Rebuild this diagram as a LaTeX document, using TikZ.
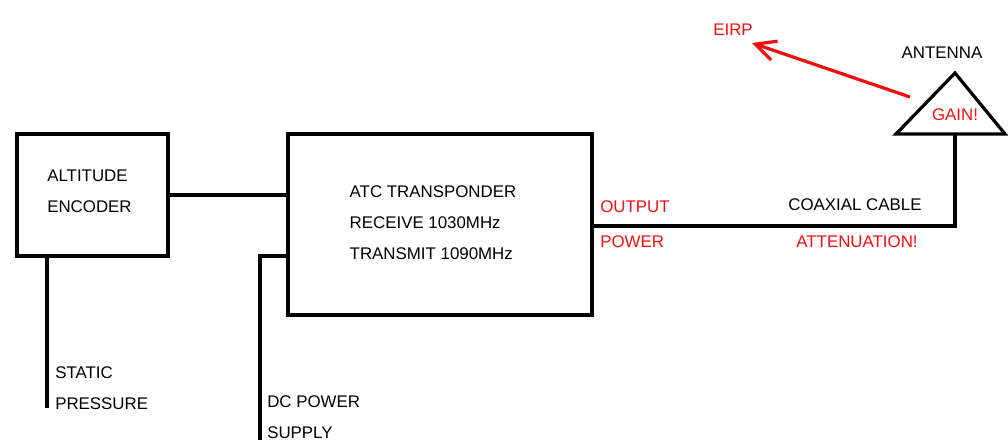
\documentclass[tikz,border=0pt]{standalone}
\usepackage{fontspec}
\setmainfont{Liberation Sans}
\usetikzlibrary{arrows.meta,positioning}
\definecolor{tx-red}{HTML}{F01010}
\newcommand{\lblfont}{\fontsize{12}{22}\selectfont}

\begin{document}
\begin{tikzpicture}[x=0.025cm, y=-0.025cm,
    unit/.style={draw, line width=2.3pt, inner sep=0pt},
    wire/.style={line width=2.3pt},
    tag/.style={font=\lblfont, align=left, inner sep=0pt},
    warn/.style={tag, text=tx-red}]
    \useasboundingbox (0,0) rectangle (1008,440);
    % blocks
    \node[unit, minimum width=3.775cm, minimum height=3.05cm] (enc) at (92.5,195) {};
    \node[unit, minimum width=7.6cm, minimum height=4.525cm] (xpdr) at (440,224.5) {};
    \node[tag] (enctxt) at ([shift={(-3,-4)}]enc.center) {ALTITUDE\\ENCODER};
    \node[tag] (xpdrtxt) at ([shift={(-7,-2)}]xpdr.center) {ATC TRANSPONDER\\RECEIVE 1030MHz\\TRANSMIT 1090MHz};
    % antenna
    \coordinate (antL) at (896,134);
    \coordinate (antR) at (1005,134);
    \coordinate (antT) at (955,73);
    \coordinate (feed) at (955,134);
    \draw[wire, line join=miter] (antL) -- (antT) -- (antR) -- cycle;
    % wires
    \coordinate (sp) at (47,408);
    \coordinate (dcbend) at (260,256);
    \coordinate (dc) at (260,442);
    \coordinate (coax) at (955,226);
    \draw[wire] (enc.east) -- (xpdr.west |- enc.east);
    \draw[wire] (enc.south -| sp) -- (sp);
    \draw[wire] (dcbend -| xpdr.west) -- (dcbend) -- (dc);
    \draw[wire] (xpdr.east |- coax) -- (coax) -- (feed);
    % labels
    \node[tag, anchor=south west] (static) at (55,410) {STATIC\\PRESSURE};
    \node[tag, anchor=north west] (dcpwr) at (267,395) {DC POWER\\SUPPLY};
    \node[tag] (cable) at (855,205) {COAXIAL CABLE};
    \node[tag] (antenna) at (942,53) {ANTENNA};
    \node[warn, anchor=west] (out) at (600,207) {OUTPUT};
    \node[warn, anchor=west] (pwr) at (600,242) {POWER};
    \node[warn] (atten) at (857,242) {ATTENUATION!};
    \node[warn] (gain) at (955,115) {GAIN!};
    \node[warn] (eirp) at (733,30) {EIRP};
    % radiated power
    \coordinate (beam) at (910,97);
    \coordinate (tip) at (752,43);
    \draw[tx-red, line width=2.3pt, -{Straight Barb[length=5mm,width=5mm]}] (beam) -- (tip);
\end{tikzpicture}
\end{document}
